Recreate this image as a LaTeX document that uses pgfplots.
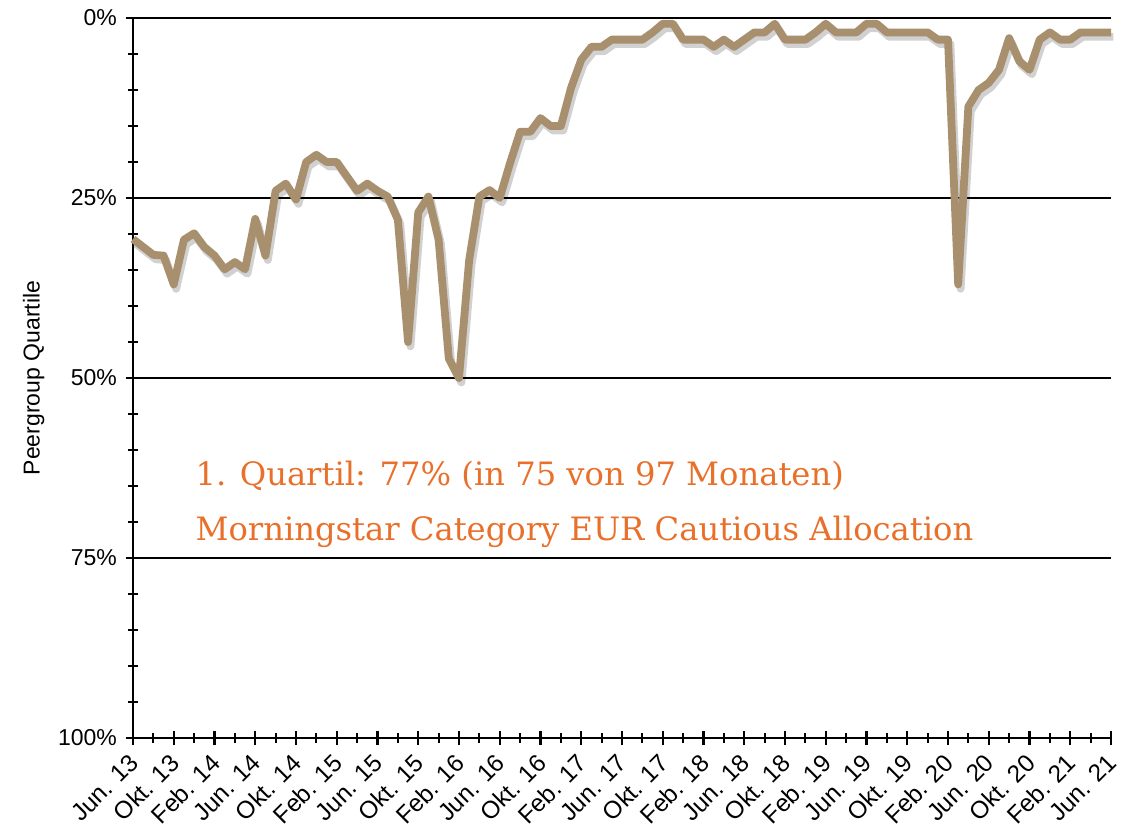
\documentclass[border=0pt]{standalone}
\usepackage{pgfplots}
\pgfplotsset{compat=1.18}
\usepackage{pgfplotstable}
\usepackage{fontspec}
\setmainfont{Liberation Sans}
\newfontfamily\serifo{DejaVu Serif}
\definecolor{tan}{RGB}{168,143,110}
\definecolor{orng}{RGB}{232,112,42}
\pgfplotstableread{
i v
0 30.7
1 31.8
2 32.9
3 33
4 37
5 30.8
6 29.9
7 31.8
8 33
9 34.9
10 33.9
11 34.9
12 27.9
13 33
14 24
15 23
16 25.2
17 20
18 19
19 20
20 20
21 22
22 24
23 23
24 24
25 24.8
26 28
27 45
28 27
29 24.8
30 30.8
31 47.3
32 50
33 33.6
34 24.8
35 23.9
36 25
37 20.2
38 15.8
39 15.8
40 13.9
41 15
42 15
43 9.7
44 5.8
45 4
46 4
47 3
48 3
49 3
50 3
51 2
52 0.8
53 0.8
54 3
55 3
56 3
57 4
58 3
59 4
60 3
61 2
62 2
63 0.8
64 3
65 3
66 3
67 2
68 0.8
69 2
70 2
71 2
72 0.8
73 0.8
74 2
75 2
76 2
77 2
78 2
79 3
80 3
81 37
82 12.3
83 10
84 9
85 7.2
86 2.8
87 6
88 7.2
89 3
90 2
91 3
92 3
93 2
94 2
95 2
96 2
}\datatable
\begin{document}
\begin{tikzpicture}
\begin{axis}[
  scale only axis,
  width=489pt, height=360pt,
  xmin=0, xmax=96, ymin=0, ymax=100,
  y dir=reverse,
  axis x line*=bottom,
  axis y line*=left,
  axis line style={line width=1.3pt},
  clip=false,
  xtick={0,4,...,96},
  minor xtick={2,6,...,94},
  xticklabels={Jun. 13,Okt. 13,Feb. 14,Jun. 14,Okt. 14,Feb. 15,Jun. 15,Okt. 15,Feb. 16,Jun. 16,Okt. 16,Feb. 17,Jun. 17,Okt. 17,Feb. 18,Jun. 18,Okt. 18,Feb. 19,Jun. 19,Okt. 19,Feb. 20,Jun. 20,Okt. 20,Feb. 21,Jun. 21},
  ytick={0,25,50,75,100},
  minor ytick={5,10,15,20,30,35,40,45,55,60,65,70,80,85,90,95},
  yticklabel={\pgfmathprintnumber{\tick}\%},
  tick align=center,
  major tick length=7pt,
  minor tick length=5pt,
  every tick/.style={line width=1.1pt, black},
  ymajorgrids,
  major grid style={line width=0.6pt, black},
  tick label style={font=\fontsize{11.5}{13}\selectfont},
  /pgf/number format/assume math mode=true,
  xticklabel style={font=\fontsize{12.2}{14}\selectfont, rotate=45, anchor=north east, inner sep=1pt, xshift=-3.4pt, yshift=0.4pt},
  yticklabel style={xshift=-1pt},
  ylabel={Peergroup Quartile},
  ylabel style={font=\fontsize{11.5}{13}\selectfont, yshift=0pt},
]
\addplot[draw=black, opacity=0.18, line width=3.9pt, line join=round, xshift=1.2pt, yshift=-2.2pt] table[x=i, y=v] {\datatable};
\addplot[draw=tan, line width=3.9pt, line join=round] table[x=i, y=v] {\datatable};
\node[anchor=base west, text=orng, font=\serifo\fontsize{16.1}{19}\selectfont, inner sep=0pt] at (axis cs:6.1,64.9) {1. Quartil: 77\% (in 75 von 97 Monaten)};
\node[anchor=base west, text=orng, font=\serifo\fontsize{16.1}{19}\selectfont, inner sep=0pt] at (axis cs:6.1,72.5) {Morningstar Category EUR Cautious Allocation};
\coordinate (bl) at (axis cs:0,100);
\coordinate (tr) at (axis cs:96,0);
\end{axis}
\pgfresetboundingbox
\path ([shift={(-66.5pt,-44pt)}]bl) rectangle ([shift={(9.5pt,9pt)}]tr);
\end{tikzpicture}
\end{document}
